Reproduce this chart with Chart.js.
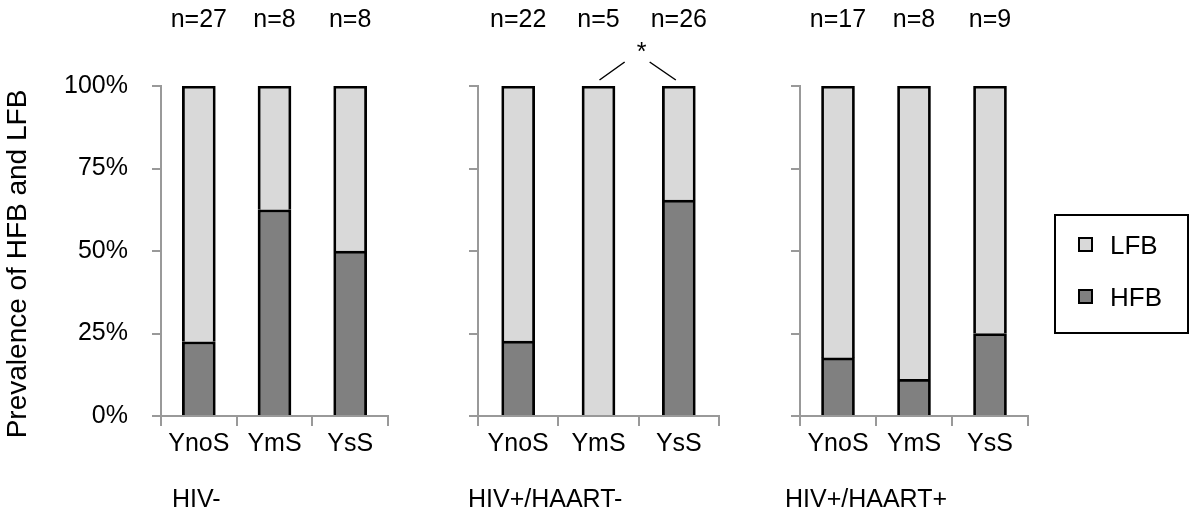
<!DOCTYPE html>
<html><head><meta charset="utf-8">
<script src="https://cdn.jsdelivr.net/npm/chart.js@4.4.1/dist/chart.umd.min.js"></script>
<style>
html,body{margin:0;padding:0;background:#fff;}
#wrap{position:relative;width:1192px;height:526px;overflow:hidden;background:#fff;}
canvas{position:absolute;top:0;}
</style></head><body>
<div id="wrap">
<canvas id="c1" style="left:0px" width="400" height="526"></canvas>
<canvas id="c2" style="left:400px" width="330" height="526"></canvas>
<canvas id="c3" style="left:730px" width="462" height="526"></canvas>
</div>
<script>
// ---- data ----
const categories = ['YnoS', 'YmS', 'YsS'];
const groupNames = ['HIV-', 'HIV+/HAART-', 'HIV+/HAART+'];
const yTickValues = [0, 25, 50, 75, 100];
const hfbG1 = [22.5, 62.5, 50];
const lfbG1 = [77.5, 37.5, 50];
const hfbG2 = [22.7, 0, 65.4];
const lfbG2 = [77.3, 100, 34.6];
const hfbG3 = [17.6, 11.1, 25];
const lfbG3 = [82.4, 88.9, 75];
const nG1 = ['n=27', 'n=8', 'n=8'];
const nG2 = ['n=22', 'n=5', 'n=26'];
const nG3 = ['n=17', 'n=8', 'n=9'];
const yTitle = 'Prevalence of HFB and LFB';
const legendLabels = ['LFB', 'HFB'];

const FONT = '"Liberation Sans", Arial, sans-serif';
Chart.defaults.font.family = FONT;
const LFB_COLOR = '#d9d9d9', HFB_COLOR = '#808080', AXIS = '#999999';

const annotPlugin = {
  id: 'annot',
  afterDraw(chart, args, o) {
    const ctx = chart.ctx, xs = chart.scales.x, area = chart.chartArea;
    ctx.save();
    ctx.fillStyle = '#000';
    ctx.font = '25px ' + FONT;
    ctx.textAlign = 'center';
    ctx.textBaseline = 'alphabetic';
    o.nLabels.forEach((t, i) => ctx.fillText(t, xs.getPixelForValue(i), 27));
    ctx.textAlign = 'left';
    ctx.fillText(o.group, area.left + o.groupDx, 507);
    if (o.title) {
      ctx.save();
      ctx.font = '28px ' + FONT;
      ctx.translate(18, 264);
      ctx.rotate(-Math.PI / 2);
      ctx.textAlign = 'center';
      ctx.textBaseline = 'middle';
      ctx.fillText(o.title, 0, 0);
      ctx.restore();
    }
    if (o.sig) {
      const xa = xs.getPixelForValue(o.sig[0]), xb = xs.getPixelForValue(o.sig[1]);
      const mid = (xa + xb) / 2;
      ctx.strokeStyle = '#000'; ctx.lineWidth = 1.5;
      ctx.beginPath();
      ctx.moveTo(xa + 1, area.top - 6); ctx.lineTo(mid - 14, area.top - 24);
      ctx.moveTo(mid + 11, area.top - 24); ctx.lineTo(xb - 3, area.top - 6);
      ctx.stroke();
      ctx.textAlign = 'center';
      ctx.fillText('*', mid + 3, 60);
    }
    if (o.legend) {
      const lx = o.legend.x, ly = o.legend.y;
      ctx.lineWidth = 2; ctx.strokeStyle = '#000';
      ctx.strokeRect(lx, ly, 133, 118);
      const items = [[legendLabels[0], LFB_COLOR], [legendLabels[1], HFB_COLOR]];
      items.forEach((it, k) => {
        const cy = ly + 30 + k * 52;
        ctx.fillStyle = it[1];
        ctx.fillRect(lx + 24, cy - 7, 13, 13);
        ctx.strokeRect(lx + 24, cy - 7, 13, 13);
        ctx.fillStyle = '#000';
        ctx.textAlign = 'left';
        ctx.font = '26px ' + FONT;
        ctx.fillText(it[0], lx + 55, cy + 9);
      });
    }
    ctx.restore();
  }
};

function makeChart(id, hfb, lfb, o) {
  return new Chart(document.getElementById(id), {
    type: 'bar',
    data: {
      labels: categories,
      datasets: [
        { label: legendLabels[1], data: hfb, backgroundColor: HFB_COLOR, borderColor: '#000', borderWidth: 2.75, barThickness: 33 },
        { label: legendLabels[0], data: lfb, backgroundColor: LFB_COLOR, borderColor: '#000', borderWidth: 2.75, barThickness: 33 }
      ]
    },
    options: {
      responsive: false, animation: false, devicePixelRatio: 1,
      layout: { padding: { top: 86, bottom: 0, left: 0, right: o.padRight } },
      plugins: {
        legend: { display: false }, tooltip: { enabled: false },
        annot: { nLabels: o.n, group: o.group, groupDx: o.groupDx, sig: o.sig, legend: o.legend, title: o.title }
      },
      scales: {
        x: {
          stacked: true,
          grid: { offset: true, drawOnChartArea: false, drawTicks: true, tickLength: 10, color: AXIS, lineWidth: 2 },
          border: { color: AXIS, width: 2 },
          ticks: { font: { size: 25 }, color: '#000', padding: 3, maxRotation: 0, autoSkip: false },
          afterFit: s => { s.height = 110; }
        },
        y: {
          stacked: true, min: 0, max: 100,
          afterBuildTicks: s => { s.ticks = yTickValues.map(v => ({ value: v })); },
          grid: { drawOnChartArea: false, drawTicks: true, tickLength: 9, color: AXIS, lineWidth: 2 },
          border: { color: AXIS, width: 2 },
          ticks: { display: o.showLabels, callback: v => v + '%', font: { size: 25 }, color: '#000', padding: 24 },
          afterFit: s => { s.width = o.yW; }
        }
      }
    },
    plugins: [annotPlugin]
  });
}

makeChart('c1', hfbG1, lfbG1, { padRight: 12, yW: 161, showLabels: true, n: nG1, group: groupNames[0], groupDx: 11, title: yTitle });
makeChart('c2', hfbG2, lfbG2, { padRight: 11, yW: 78, showLabels: false, n: nG2, group: groupNames[1], groupDx: -10, sig: [1, 2] });
makeChart('c3', hfbG3, lfbG3, { padRight: 164, yW: 70, showLabels: false, n: nG3, group: groupNames[2], groupDx: -15, legend: { x: 325, y: 215 } });
</script>
</body></html>
